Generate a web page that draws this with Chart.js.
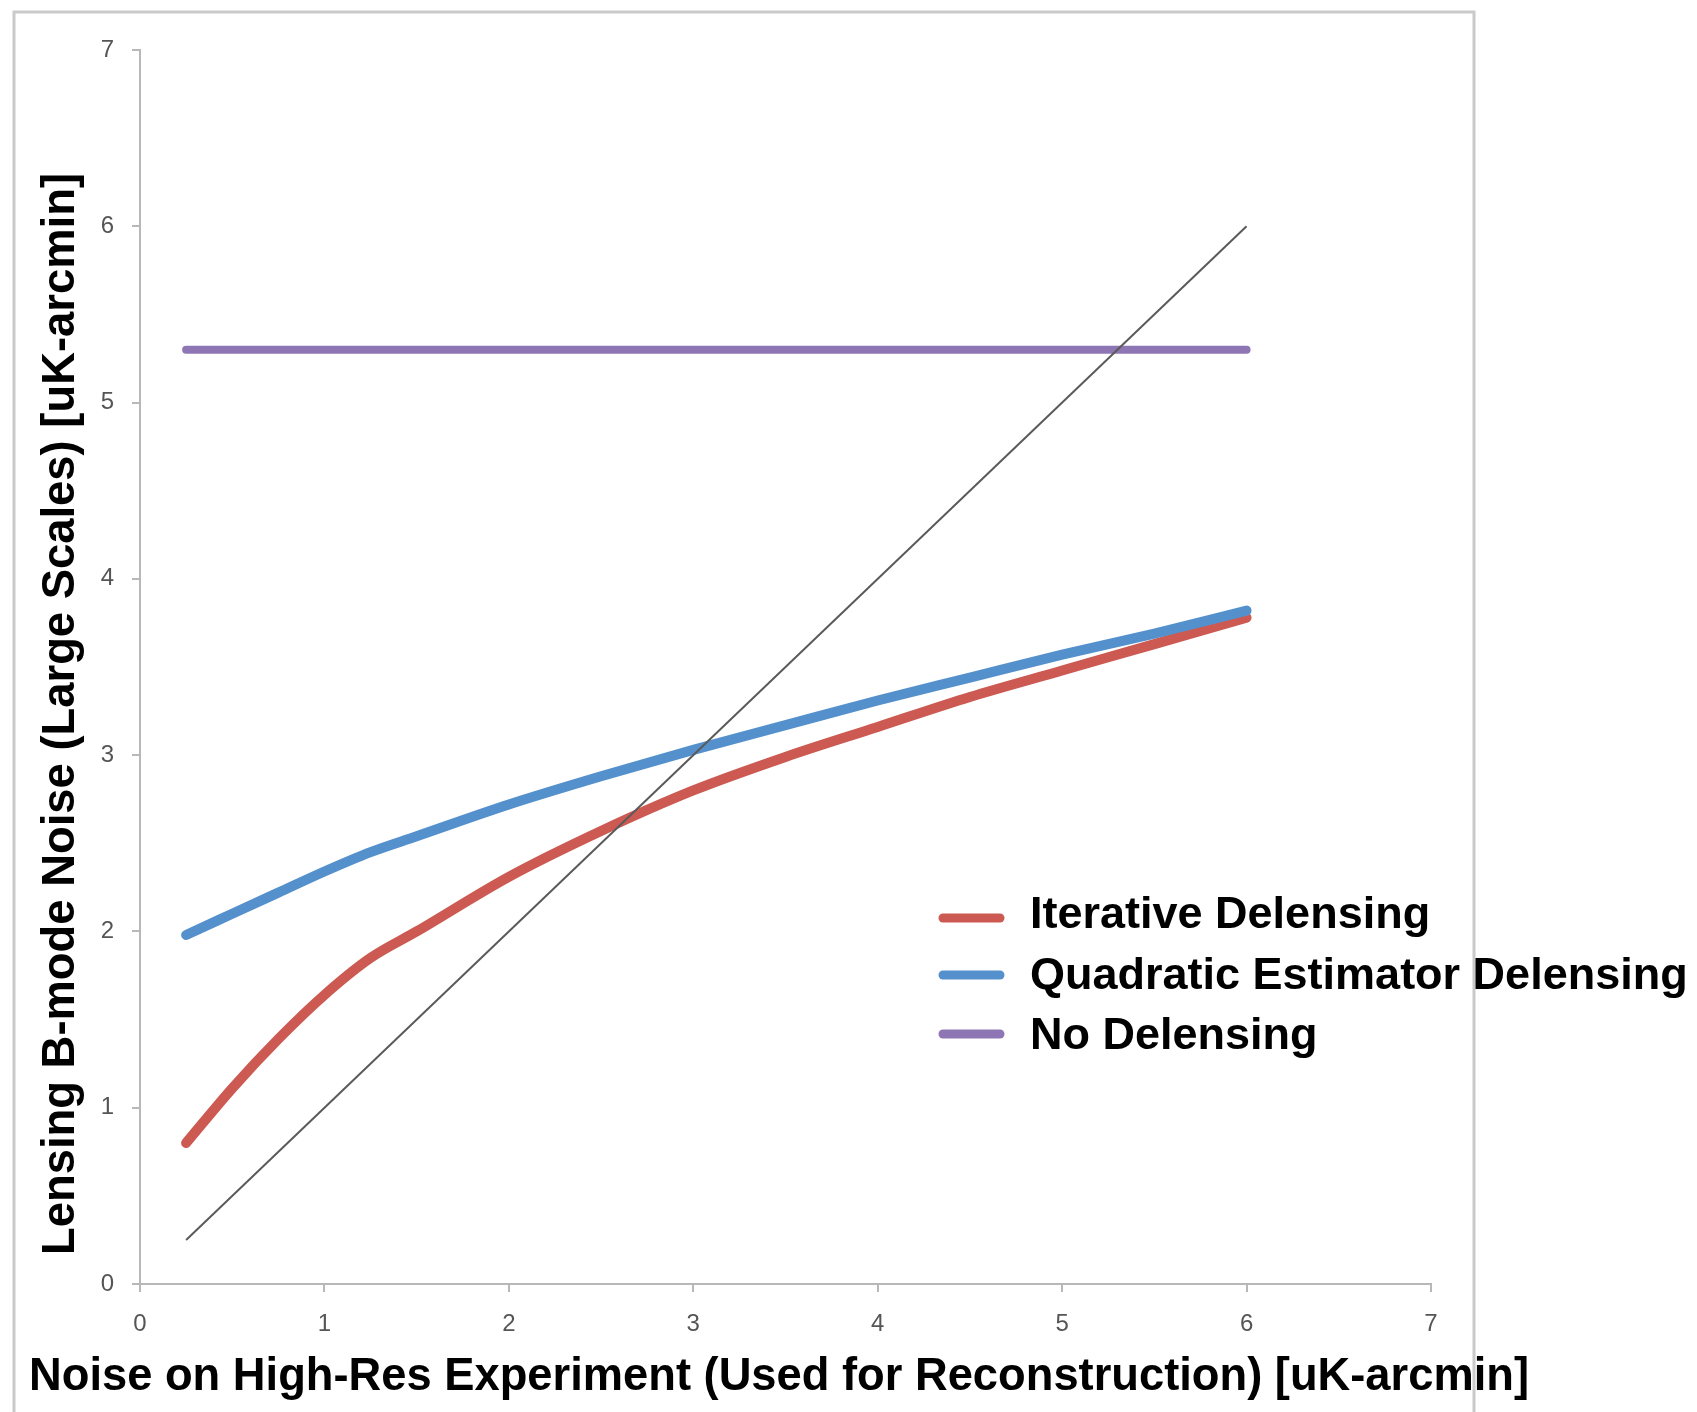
<!DOCTYPE html>
<html>
<head>
<meta charset="utf-8">
<script src="https://cdn.jsdelivr.net/npm/chart.js@4.4.1/dist/chart.umd.min.js"></script>
<style>
  html, body { margin: 0; padding: 0; background: #fff; }
  #wrap { position: relative; width: 1697px; height: 1412px; }
</style>
</head>
<body>
<div id="wrap"><canvas id="myChart"></canvas></div>
<script>
// noise on high-res experiment (x) and the resulting lensing B-mode noise (y)
const noise_x      = [0.25, 0.5, 0.75, 1, 1.25, 1.5, 2, 2.5, 3, 3.5, 4, 4.5, 5, 5.5, 6];
const iterative    = [0.80, 1.11, 1.39, 1.64, 1.85, 2.00, 2.31, 2.57, 2.80, 2.99, 3.16, 3.33, 3.48, 3.63, 3.78];
const quadratic    = [1.98, 2.10, 2.22, 2.34, 2.45, 2.54, 2.72, 2.88, 3.03, 3.17, 3.31, 3.44, 3.57, 3.69, 3.82];
const no_delensing = [5.3, 5.3, 5.3, 5.3, 5.3, 5.3, 5.3, 5.3, 5.3, 5.3, 5.3, 5.3, 5.3, 5.3, 5.3];
// y = x reference line, just its two ends
const diag_x = [0.25, 6];
const diag_y = [0.25, 6];

const axis_ticks = [0, 1, 2, 3, 4, 5, 6, 7];
const x_title = 'Noise on High-Res Experiment (Used for Reconstruction) [uK-arcmin]';
const y_title = 'Lensing B-mode Noise (Large Scales) [uK-arcmin]';

const toPoints = (xs, ys) => xs.map((x, i) => ({ x: x, y: ys[i] }));

const series = [
  { label: 'Iterative Delensing', data: iterative, color: '#cc5a52' },
  { label: 'Quadratic Estimator Delensing', data: quadratic, color: '#5490cc' },
  { label: 'No Delensing', data: no_delensing, color: '#8e76b4' }
];

const titleFont = '"Liberation Sans", Arial, Helvetica, sans-serif';
const tickFont = '"Liberation Sans Narrow", "Liberation Sans", Arial, sans-serif';
const axisColor = '#b8b8b8';

// outer frame of the original sheet chart
const framePlugin = {
  id: 'frame',
  beforeDraw(chart) {
    const ctx = chart.ctx;
    ctx.save();
    ctx.strokeStyle = '#cacaca';
    ctx.lineWidth = 3;
    ctx.beginPath();
    ctx.moveTo(14, 1420);
    ctx.lineTo(14, 12);
    ctx.lineTo(1474, 12);
    ctx.lineTo(1474, 1420);
    ctx.stroke();
    ctx.restore();
  }
};

// axis titles and the legend sitting inside the plot
const overlayPlugin = {
  id: 'overlay',
  afterDraw(chart) {
    const ctx = chart.ctx;
    ctx.save();
    ctx.fillStyle = '#000';
    ctx.textAlign = 'center';
    ctx.textBaseline = 'middle';
    ctx.font = 'bold 45.3px ' + titleFont;
    ctx.fillText(x_title, 779, 1378);
    ctx.font = 'bold 45.4px ' + titleFont;
    ctx.translate(61, 714);
    ctx.rotate(-Math.PI / 2);
    ctx.fillText(y_title, 0, 0);
    ctx.restore();

    const rows = [
      { text: 916, line: 918 },
      { text: 977, line: 975 },
      { text: 1037, line: 1034 }
    ];
    ctx.save();
    ctx.font = 'bold 45px ' + titleFont;
    ctx.textBaseline = 'middle';
    ctx.textAlign = 'left';
    ctx.lineCap = 'round';
    series.forEach((s, i) => {
      ctx.strokeStyle = s.color;
      ctx.lineWidth = 9;
      ctx.beginPath();
      ctx.moveTo(943, rows[i].line);
      ctx.lineTo(1000, rows[i].line);
      ctx.stroke();
      ctx.fillStyle = '#000';
      ctx.fillText(s.label, 1030, rows[i].text);
    });
    ctx.restore();
  }
};

const lineSet = (s, width) => ({
  label: s.label,
  data: toPoints(noise_x, s.data),
  borderColor: s.color,
  backgroundColor: s.color,
  borderWidth: width,
  borderCapStyle: 'round',
  borderJoinStyle: 'round',
  showLine: true,
  pointRadius: 0,
  cubicInterpolationMode: 'monotone',
  fill: false
});

const setTicks = scale => { scale.ticks = axis_ticks.map(v => ({ value: v })); };

let config = {
  type: 'scatter',
  data: {
    datasets: [
      {
        label: 'y = x',
        data: toPoints(diag_x, diag_y),
        borderColor: '#5a5a5a',
        borderWidth: 2,
        showLine: true,
        pointRadius: 0,
        order: 0
      },
      Object.assign(lineSet(series[1], 10), { order: 1 }),
      Object.assign(lineSet(series[0], 10), { order: 2 }),
      Object.assign(lineSet(series[2], 8), { order: 3 })
    ]
  },
  options: {
    responsive: true,
    maintainAspectRatio: false,
    animation: false,
    layout: { padding: { left: 0, top: 50, right: 266, bottom: 0 } },
    plugins: {
      legend: { display: false },
      tooltip: { enabled: false }
    },
    scales: {
      x: {
        type: 'linear',
        min: 0,
        max: 7,
        afterBuildTicks: setTicks,
        afterFit(scale) {
          scale.height = 128;
          scale.paddingLeft = 0;
          scale.paddingRight = 0;
        },
        grid: { drawOnChartArea: false, drawTicks: true, tickLength: 8, color: axisColor, lineWidth: 2 },
        border: { color: axisColor, width: 2 },
        ticks: { color: '#555', font: { family: tickFont, size: 24 }, padding: 18 }
      },
      y: {
        type: 'linear',
        min: 0,
        max: 7,
        afterBuildTicks: setTicks,
        afterFit(scale) {
          scale.width = 140;
          scale.paddingTop = 0;
          scale.paddingBottom = 0;
        },
        grid: { drawOnChartArea: false, drawTicks: true, tickLength: 8, color: axisColor, lineWidth: 2 },
        border: { color: axisColor, width: 2 },
        ticks: { color: '#555', font: { family: tickFont, size: 24 }, padding: 18 }
      }
    }
  },
  plugins: [framePlugin, overlayPlugin]
};

window.onload = () => {
  new Chart(document.getElementById('myChart'), config);
};
</script>
</body>
</html>
